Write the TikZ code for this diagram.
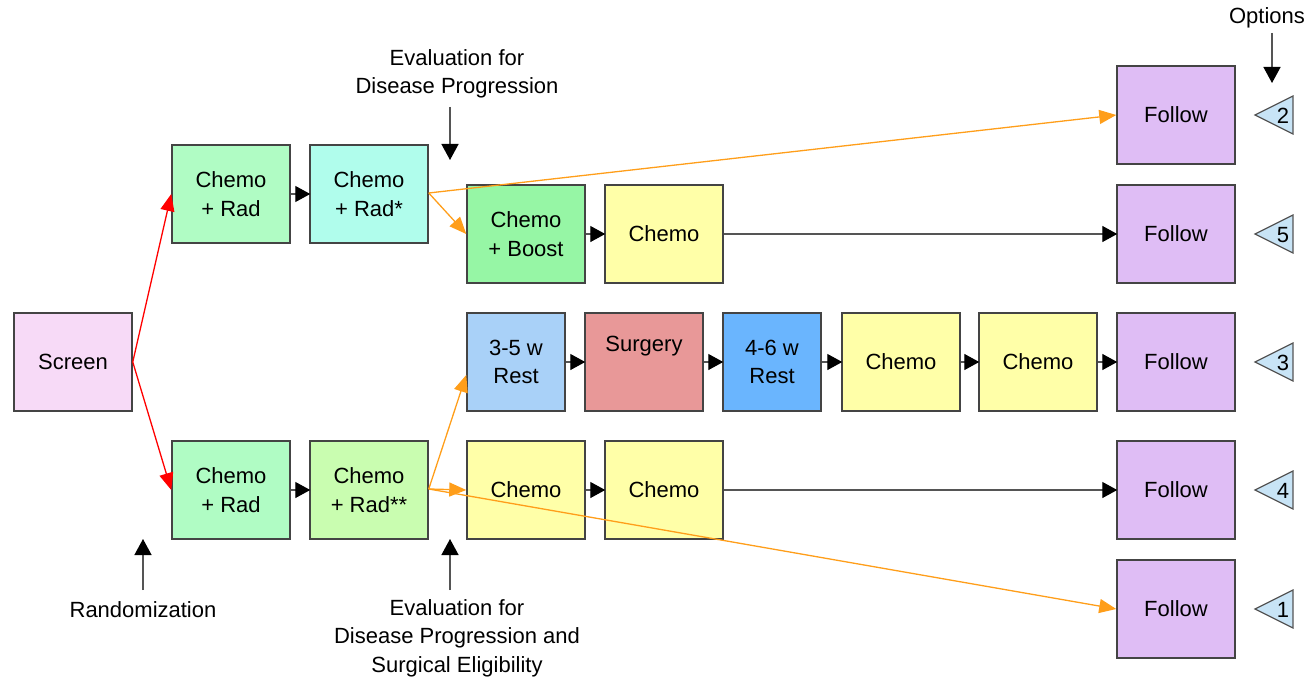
\documentclass[tikz,border=0pt]{standalone}
\usepackage{fontspec}
\setmainfont{Liberation Sans}
\usetikzlibrary{arrows.meta,calc}
\definecolor{boxline}{HTML}{444444}
\definecolor{stem}{HTML}{555555}
\definecolor{cScreen}{HTML}{F7DAF7}
\definecolor{cRad}{HTML}{B0FCC4}
\definecolor{cRadA}{HTML}{B0FDEC}
\definecolor{cRadB}{HTML}{C9FDB0}
\definecolor{cBoost}{HTML}{96F6A5}
\definecolor{cChemo}{HTML}{FFFFA8}
\definecolor{cFollow}{HTML}{DFBDF5}
\definecolor{cRestA}{HTML}{A9D1F8}
\definecolor{cSurg}{HTML}{E89898}
\definecolor{cRestB}{HTML}{6AB5FE}
\definecolor{cTri}{HTML}{C8E4F6}
\definecolor{cOrange}{HTML}{FF9E1A}
\tikzset{
  lbl/.style={font=\fontsize{22}{28.5}\selectfont, align=center, inner sep=0pt},
  box/.style={lbl, draw=boxline, line width=1.5pt, minimum width=118pt,
    minimum height=98pt},
  narrow/.style={box, minimum width=98pt},
  link/.style={draw=stem, line width=1.4pt,
    -{Triangle[length=15pt,width=16pt,color=black]}, shorten >=-1pt},
  redlink/.style={draw=red, line width=1.3pt,
    -{Triangle[length=17pt,width=14pt,color=red]}},
  orlink/.style={draw=cOrange, line width=1.3pt,
    -{Triangle[length=17pt,width=14pt,color=cOrange]}},
  pointer/.style={draw=stem, line width=1.4pt,
    -{Triangle[length=16pt,width=17pt,color=black]}},
  marker/.style={draw=stem, fill=cTri, line width=1.2pt},
}
\begin{document}
\begin{tikzpicture}[x=1pt,y=-1pt]
\useasboundingbox (0,0) rectangle (1310,682);

% boxes
\node[box, fill=cScreen] (screen) at (73,362) {Screen};
\node[box, fill=cRad] (crA) at (231,194) {Chemo\\+ Rad};
\node[box, fill=cRadA] (crA2) at (369,194) {Chemo\\+ Rad*};
\node[box, fill=cRad] (crB) at (231,490) {Chemo\\+ Rad};
\node[box, fill=cRadB] (crB2) at (369,490) {Chemo\\+ Rad**};

\node[box, fill=cBoost] (boost) at (526,234) {Chemo\\+ Boost};
\node[box, fill=cChemo] (ch5) at (664,234) {Chemo};

\node[narrow, fill=cRestA] (rest1) at (516,362) {3-5 w\\Rest};
\node[box, fill=cSurg] (surg) at (644,362) {Surgery\\\strut};
\node[narrow, fill=cRestB] (rest2) at (772,362) {4-6 w\\Rest};
\node[box, fill=cChemo] (ch3a) at (901,362) {Chemo};
\node[box, fill=cChemo] (ch3b) at (1038,362) {Chemo};

\node[box, fill=cChemo] (ch4a) at (526,490) {Chemo};
\node[box, fill=cChemo] (ch4b) at (664,490) {Chemo};

\node[box, fill=cFollow] (f2) at (1176,115) {Follow};
\node[box, fill=cFollow] (f5) at (1176,234) {Follow};
\node[box, fill=cFollow] (f3) at (1176,362) {Follow};
\node[box, fill=cFollow] (f4) at (1176,490) {Follow};
\node[box, fill=cFollow] (f1) at (1176,609) {Follow};

% option markers
\foreach \n/\y in {2/115,5/234,3/362,4/490,1/609}{
  \draw[marker] (1255,\y) -- (1293,\y-19) -- (1293,\y+19) -- cycle;
  \node[lbl] at (1283,\y+1) {\n};
}

% sequential steps
\draw[link] (crA) -- (crA2);
\draw[link] (crB) -- (crB2);
\draw[link] (boost) -- (ch5);
\draw[link] (ch5) -- (f5);
\draw[link] (rest1) -- (surg);
\draw[link] (surg) -- (rest2);
\draw[link] (rest2) -- (ch3a);
\draw[link] (ch3a) -- (ch3b);
\draw[link] (ch3b) -- (f3);
\draw[link] (ch4a) -- (ch4b);
\draw[link] (ch4b) -- (f4);

% randomization
\draw[redlink] (screen.east) -- (crA.west);
\draw[redlink] (screen.east) -- (crB.west);

% branching after evaluation
\coordinate (oA) at ($(crA2.east)+(0,-1)$);
\coordinate (oB) at ($(crB2.east)+(0,-1)$);
\draw[orlink] (oA) -- (f2.west);
\draw[orlink] (oA) -- (boost.west);
\draw[orlink] (oB) -- ($(rest1.west)+(0,13)$);
\draw[orlink] (oB) -- (ch4a.west);
\draw[orlink] (oB) -- (f1.west);

% annotations
\node[lbl] (evalT) at (457,74) {Evaluation for\\Disease Progression};
\coordinate (evalTtip) at (450,160);
\draw[pointer] (450,107) -- (evalTtip);

\node[lbl] (opt) at (1267,18) {Options};
\coordinate (opttip) at (1272,83);
\draw[pointer] (1272,33) -- (opttip);

\node[lbl] (rand) at (143,610) {Randomization};
\coordinate (randtip) at (143,539);
\draw[pointer] (143,590) -- (randtip);

\node[lbl] (evalB) at (457,638) {Evaluation for\\Disease Progression and\\Surgical Eligibility};
\coordinate (evalBtip) at (450,539);
\draw[pointer] (450,590) -- (evalBtip);
\end{tikzpicture}
\end{document}
